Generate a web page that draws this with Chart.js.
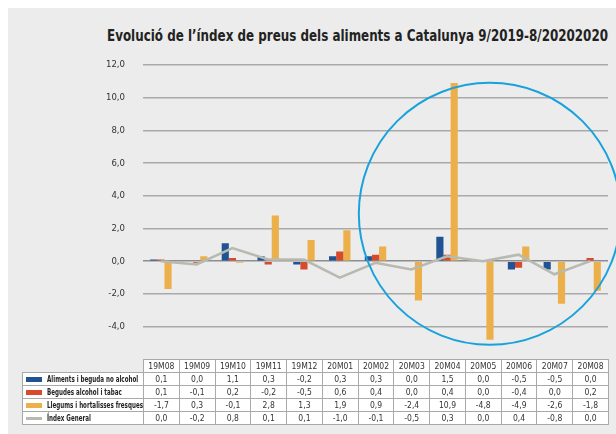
<!DOCTYPE html>
<html>
<head>
<meta charset="utf-8">
<script src="https://cdn.jsdelivr.net/npm/chart.js@4.4.0/dist/chart.umd.min.js"></script>
<style>
  body { margin: 0; background: #fff; }
  #panel { position: absolute; left: 8px; top: 8px; width: 608px; height: 426px; background: #ebeceb; }
  #title { position: absolute; left: 107px; top: 27px; font-family: "DejaVu Sans Condensed"; font-weight: bold; font-size: 15px; color: #222; white-space: nowrap; transform-origin: 0 0; }
  #chart { position: absolute; left: 0; top: 0; }
  #tbl { position: absolute; border-collapse: collapse; table-layout: fixed; font-family: "DejaVu Sans Condensed"; font-size: 8.5px; color: #333; }
  #tbl td { border: 1px solid #a9a9a9; background: #fff; height: 12px; padding: 0; text-align: center; overflow: hidden; white-space: nowrap; }
  #tbl td.lab { text-align: left; font-weight: bold; padding-left: 3px; color: #222; font-size: 9px; }
  #tbl td.blank { border: none; border-bottom: 1px solid #a9a9a9; background: transparent; }
  .sw { display: inline-block; width: 16px; height: 5px; margin-right: 5px; vertical-align: 0px; }
  .nm { display: inline-block; transform-origin: 0 50%; }
</style>
</head>
<body>
<div id="panel"></div>
<div id="title">Evolució de l’índex de preus dels aliments a Catalunya 9/2019-8/20202020</div>
<canvas id="chart" width="616" height="383"></canvas>
<table id="tbl"></table>
<script>
// dades
const months = ['19M08', '19M09', '19M10', '19M11', '19M12', '20M01', '20M02', '20M03', '20M04', '20M05', '20M06', '20M07', '20M08'];
const aliments = [0.1, 0.0, 1.1, 0.3, -0.2, 0.3, 0.3, 0.0, 1.5, 0.0, -0.5, -0.5, 0.0];
const begudes = [0.1, -0.1, 0.2, -0.2, -0.5, 0.6, 0.4, 0.0, 0.4, 0.0, -0.4, 0.0, 0.2];
const llegums = [-1.7, 0.3, -0.1, 2.8, 1.3, 1.9, 0.9, -2.4, 10.9, -4.8, 0.9, -2.6, -1.8];
// la taula original mostra -4,9 a 20M06 tot i que la barra és positiva
const llegumsTaula = [-1.7, 0.3, -0.1, 2.8, 1.3, 1.9, 0.9, -2.4, 10.9, -4.8, -4.9, -2.6, -1.8];
const indexGeneral = [0.0, -0.2, 0.8, 0.1, 0.1, -1.0, -0.1, -0.5, 0.3, 0.0, 0.4, -0.8, 0.0];
const yTicks = [-4, -2, 0, 2, 4, 6, 8, 10, 12];

const colors = { blue: '#1f5394', red: '#d84a2c', orange: '#ecb04b', grey: '#b8b9b1' };

const fmt = v => v.toFixed(1).replace('.', ',');

// cercle blau de l'original
const circlePlugin = {
  id: 'circle',
  afterDatasetsDraw(chart) {
    const { ctx, scales } = chart;
    const cx = scales.x.getPixelForValue(9) + 7;
    const cy = scales.y.getPixelForValue(2.9);
    ctx.save();
    ctx.beginPath();
    ctx.arc(cx, cy, 131, 0, Math.PI * 2);
    ctx.strokeStyle = '#18a2dc';
    ctx.lineWidth = 2;
    ctx.stroke();
    ctx.restore();
  }
};

const chart = new Chart(document.getElementById('chart'), {
  type: 'bar',
  data: {
    labels: months,
    datasets: [
      { type: 'line', label: 'Índex General', data: indexGeneral, borderColor: colors.grey, borderWidth: 2.5, pointRadius: 0, tension: 0, order: 0 },
      { label: 'Aliments i beguda no alcohol', data: aliments, backgroundColor: colors.blue, order: 1 },
      { label: 'Begudes alcohol i tabac', data: begudes, backgroundColor: colors.red, order: 1 },
      { label: 'Llegums i hortalisses fresques', data: llegums, backgroundColor: colors.orange, order: 1 }
    ]
  },
  options: {
    responsive: false,
    animation: false,
    layout: { padding: { top: 65, right: 8, bottom: 0, left: 0 } },
    datasets: { bar: { categoryPercentage: 0.6, barPercentage: 1.0 } },
    plugins: { legend: { display: false }, tooltip: { enabled: false } },
    scales: {
      x: { display: false },
      y: {
        min: -6, max: 12,
        afterBuildTicks: s => { s.ticks = [-6].concat(yTicks).map(v => ({ value: v })); },
        afterFit: s => { s.width = 143; },
        border: { display: false },
        grid: {
          drawTicks: false,
          color: c => c.tick.value === -6 ? 'rgba(0,0,0,0)' : (c.tick.value === 0 ? '#8d8d8d' : '#a9a9a9'),
          lineWidth: 1.5
        },
        ticks: {
          padding: 18,
          color: '#333',
          font: { family: 'DejaVu Sans Condensed', size: 9.5 },
          callback: v => v === -6 ? '' : fmt(v)
        }
      }
    }
  },
  plugins: [circlePlugin]
});

// ajusta l'amplada d'un text estrenyent-lo horitzontalment
function squeeze(el, target) {
  const w = el.getBoundingClientRect().width;
  el.style.transform = 'scaleX(' + (target / w) + ')';
}

// taula de dades sota el gràfic
function buildTable() {
  const area = chart.chartArea;
  const colW = (area.right - area.left) / months.length;
  const labW = area.left - 22;
  const tbl = document.getElementById('tbl');
  tbl.style.left = '22px';
  tbl.style.top = '359px';
  tbl.style.width = (area.right - 22) + 'px';
  let html = '<colgroup><col style="width:' + labW + 'px">';
  months.forEach(() => { html += '<col style="width:' + colW + 'px">'; });
  html += '</colgroup><tr><td class="blank"></td>';
  months.forEach(m => { html += '<td>' + m + '</td>'; });
  html += '</tr>';
  const rows = [
    ['Aliments i beguda no alcohol', colors.blue, aliments, false],
    ['Begudes alcohol i tabac', colors.red, begudes, false],
    ['Llegums i hortalisses fresques', colors.orange, llegumsTaula, false],
    ['Índex General', colors.grey, indexGeneral, true]
  ];
  rows.forEach(([name, col, vals, isLine]) => {
    const sw = isLine
      ? '<span class="sw" style="height:3px;background:' + col + ';vertical-align:1px"></span>'
      : '<span class="sw" style="background:' + col + '"></span>';
    html += '<tr><td class="lab">' + sw + '<span class="nm">' + name + '</span></td>';
    vals.forEach(v => { html += '<td>' + fmt(v) + '</td>'; });
    html += '</tr>';
  });
  tbl.innerHTML = html;
  const names = tbl.querySelectorAll('.nm');
  const k = 96 / names[2].getBoundingClientRect().width;
  names.forEach(n => { n.style.transform = 'scaleX(' + k + ')'; });
}
buildTable();
squeeze(document.getElementById('title'), 501);
</script>
</body>
</html>
